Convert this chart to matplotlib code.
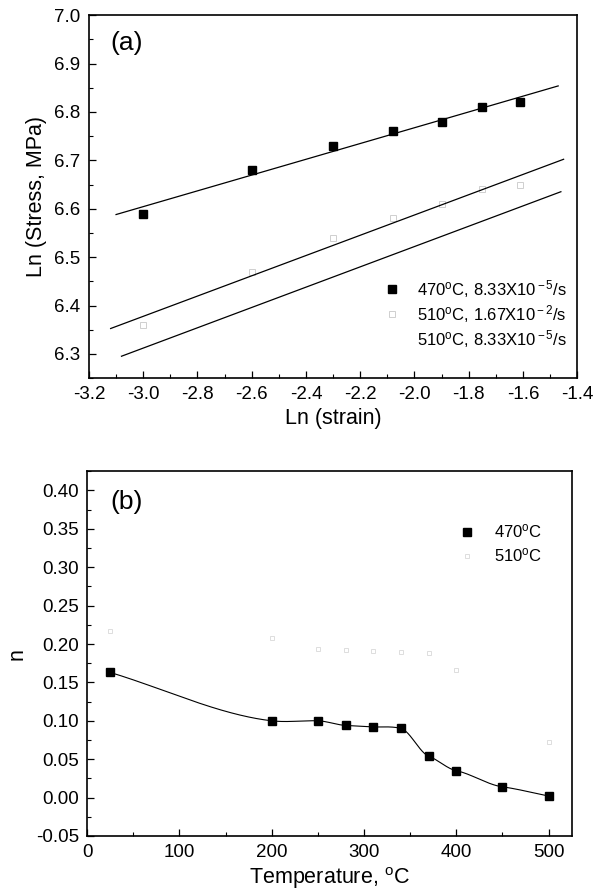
import numpy as np
import matplotlib.pyplot as plt
from matplotlib.ticker import MultipleLocator

plt.rcParams['font.family'] = ['Liberation Sans', 'DejaVu Sans']
plt.rcParams['mathtext.fontset'] = 'custom'
plt.rcParams['mathtext.rm'] = 'Liberation Sans'
plt.rcParams['mathtext.it'] = 'Liberation Sans:italic'

# (a) ln(stress) vs ln(strain)
ln_strain = [-3.0, -2.6, -2.3, -2.08, -1.9, -1.75, -1.61]
ln_stress_470_slow = [6.59, 6.68, 6.73, 6.76, 6.78, 6.81, 6.82]
ln_stress_510_fast = [6.36, 6.47, 6.54, 6.58, 6.61, 6.64, 6.65]
ln_stress_510_slow = [6.312, 6.396, 6.459, 6.505, 6.543, 6.574, 6.604]
fit_span_a = [(-3.10, -1.47), (-3.12, -1.45), (-3.08, -1.46)]
labels_a = [r'470$^{\rm o}$C, 8.33X10$^{\rm -5}$/s',
            r'510$^{\rm o}$C, 1.67X10$^{\rm -2}$/s',
            r'510$^{\rm o}$C, 8.33X10$^{\rm -5}$/s']

# (b) strain hardening exponent vs temperature
temp = [25, 200, 250, 280, 310, 340, 370, 400, 450, 500]
n_470 = [0.163, 0.100, 0.100, 0.094, 0.092, 0.090, 0.054, 0.035, 0.014, 0.002]
temp_510 = [25, 200, 250, 280, 310, 340, 370, 400, 500]
n_510 = [0.217, 0.208, 0.194, 0.192, 0.191, 0.190, 0.188, 0.166, 0.072]


def smooth_curve(x, y, xn, tension=0.5):
    # cardinal spline (cubic Hermite with damped centred slopes)
    x = np.asarray(x, float)
    y = np.asarray(y, float)
    h = np.diff(x)
    m = np.zeros_like(y)
    m[1:-1] = (1 - tension) * (y[2:] - y[:-2]) / (x[2:] - x[:-2])
    m[0] = (y[1] - y[0]) / h[0]
    m[-1] = (y[-1] - y[-2]) / h[-1]
    idx = np.clip(np.searchsorted(x, xn) - 1, 0, len(x) - 2)
    t = (xn - x[idx]) / h[idx]
    h00 = 2 * t**3 - 3 * t**2 + 1
    h10 = t**3 - 2 * t**2 + t
    h01 = -2 * t**3 + 3 * t**2
    h11 = t**3 - t**2
    return (h00 * y[idx] + h10 * h[idx] * m[idx]
            + h01 * y[idx + 1] + h11 * h[idx] * m[idx + 1])


fig = plt.figure(figsize=(6.05, 8.96), dpi=100)
ax1 = fig.add_axes([0.147, 0.578, 0.807, 0.405])
ax2 = fig.add_axes([0.144, 0.067, 0.801, 0.407])

series_a = [ln_stress_470_slow, ln_stress_510_fast, ln_stress_510_slow]
styles = [dict(color='black', marker='s', ms=6, mfc='black', mec='black'),
          dict(color='#cfcfcf', marker='s', ms=4.5, mfc='none', mec='#cfcfcf', mew=0.7),
          dict(color='white', marker='s', ms=5, mfc='white', mec='white')]
for ys, span, lab, st in zip(series_a, fit_span_a, labels_a, styles):
    ax1.plot(ln_strain, ys, ls='none', label=lab, **st)
    k, b = np.polyfit(ln_strain, ys, 1)
    xs = np.array(span)
    ax1.plot(xs, k * xs + b, color='black', lw=0.9)

ax1.set_xlim(-3.2, -1.4)
ax1.set_ylim(6.25, 7.0)
ax1.xaxis.set_minor_locator(MultipleLocator(0.1))
ax1.yaxis.set_major_locator(MultipleLocator(0.1))
ax1.yaxis.set_minor_locator(MultipleLocator(0.05))
xt = np.arange(-3.2, -1.39, 0.2)
ax1.set_xticks(xt)
ax1.set_xticklabels(['%.1f' % v for v in xt])
ax1.set_xlabel('Ln (strain)', fontsize=15.5, labelpad=3)
ax1.set_ylabel('Ln (Stress, MPa)', fontsize=15.5, labelpad=5)
ax1.text(0.043, 0.923, '(a)', transform=ax1.transAxes, fontsize=19, va='center')
ax1.legend(loc='lower right', bbox_to_anchor=(1.0, 0.05), frameon=False,
           fontsize=12, handlelength=1.2, handletextpad=0.9, labelspacing=0.2,
           borderaxespad=0.2)

ax2.plot(temp_510, n_510, ls='none', marker='s', ms=3.5, mfc='none',
         mec='#dddddd', mew=0.7, label=r'510$^{\rm o}$C')
tt = np.linspace(temp[0], temp[-1], 400)
ax2.plot(tt, smooth_curve(temp, n_470, tt), color='black', lw=0.8)
ax2.plot(temp, n_470, ls='none', marker='s', ms=6, color='black',
         label=r'470$^{\rm o}$C')
ax2.set_xlim(0, 525)
ax2.set_ylim(-0.05, 0.425)
ax2.xaxis.set_major_locator(MultipleLocator(100))
ax2.xaxis.set_minor_locator(MultipleLocator(50))
ax2.yaxis.set_major_locator(MultipleLocator(0.05))
ax2.yaxis.set_minor_locator(MultipleLocator(0.025))
ax2.yaxis.set_major_formatter(plt.FuncFormatter(lambda v, p: '%.2f' % v))
ax2.set_xlabel(r'Temperature, $^{\rm o}$C', fontsize=15.5, labelpad=3)
ax2.set_ylabel('n', fontsize=15.5, labelpad=6)
ax2.text(0.048, 0.915, '(b)', transform=ax2.transAxes, fontsize=19, va='center')
h, l = ax2.get_legend_handles_labels()
ax2.legend(h[::-1], l[::-1], loc='upper right', bbox_to_anchor=(0.97, 0.9),
           frameon=False, fontsize=12, handlelength=1.2, handletextpad=1.0,
           labelspacing=0.35)

for ax in (ax1, ax2):
    ax.tick_params(which='both', direction='in', top=False, right=False,
                   labelsize=13.5, pad=6)
    ax.tick_params(which='major', length=5, width=0.9)
    ax.tick_params(which='minor', length=3, width=0.8)
    for s in ax.spines.values():
        s.set_linewidth(1.2)

fig.savefig('out.png', dpi=100)
